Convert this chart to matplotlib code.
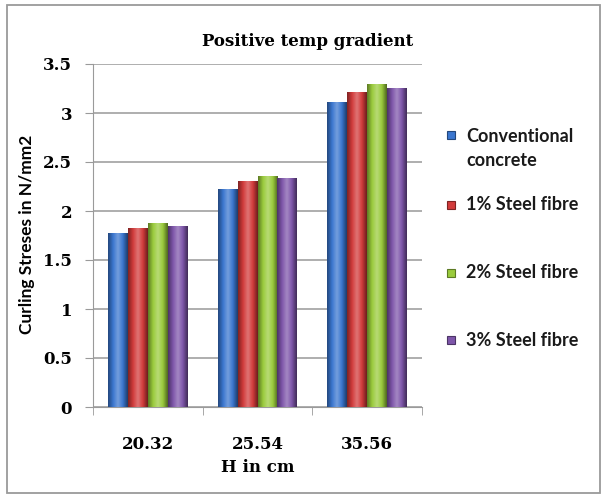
import numpy as np
import matplotlib
matplotlib.use("Agg")
import matplotlib.pyplot as plt
from matplotlib.patches import Rectangle
from matplotlib.colors import LinearSegmentedColormap, to_rgb

categories = ["20.32", "25.54", "35.56"]
series_names = ["Conventional\nconcrete", "1% Steel fibre", "2% Steel fibre", "3% Steel fibre"]
conventional = [1.77, 2.22, 3.11]
steel_1 = [1.82, 2.30, 3.21]
steel_2 = [1.87, 2.35, 3.29]
steel_3 = [1.84, 2.33, 3.25]
y_ticks = [0, 0.5, 1, 1.5, 2, 2.5, 3, 3.5]
y_tick_labels = ["0", "0.5", "1", "1.5", "2", "2.5", "3", "3.5"]

series = [conventional, steel_1, steel_2, steel_3]
colors = ["#3a76cf", "#d23b3b", "#9acb3c", "#7e56aa"]

W, H = 608, 495
fig = plt.figure(figsize=(W / 100, H / 100), dpi=100)
ax = fig.add_axes([93 / W, 1 - 407 / H, (422 - 93) / W, (407 - 64) / H])

# outer chart frame
fig.patches.append(Rectangle((7 / W, 1 - 493 / H), 593 / W, 488 / H,
                             transform=fig.transFigure, fill=False,
                             edgecolor="#9a9a9a", linewidth=1.3))

serif = "DejaVu Serif"
sans = "Lato"

x = np.arange(len(categories))
bw = 0.182
offsets = (np.arange(len(series)) - 1.5) * bw


def shade(color):
    c = np.array(to_rgb(color))
    dark = c * 0.6
    light = np.clip(c + (1 - c) * 0.3, 0, 1)
    return LinearSegmentedColormap.from_list("s", [dark, c, light, c, dark * 0.85])


for vals, col, off, name in zip(series, colors, offsets, series_names):
    bars = ax.bar(x + off, vals, bw, color=col, edgecolor="none", label=name, zorder=2)
    cmap = shade(col)
    grad = np.linspace(0, 1, 64).reshape(1, -1)
    for b in bars:
        x0, w, h = b.get_x(), b.get_width(), b.get_height()
        ax.imshow(grad, cmap=cmap, aspect="auto", extent=(x0, x0 + w, 0, h),
                  zorder=3, interpolation="bicubic")

ax.set_xlim(-0.5, 2.5)
ax.set_ylim(0, 3.5)
ax.set_yticks(y_ticks)
ax.set_yticklabels(y_tick_labels, fontfamily=serif, fontweight="bold", fontsize=12)
ax.set_xticks(x)
ax.set_xticklabels(categories, fontfamily=serif, fontweight="bold", fontsize=12)
ax.tick_params(axis="x", length=0, pad=21)
ax.set_xticks([-0.5, 0.5, 1.5, 2.5], minor=True)
ax.tick_params(axis="x", which="minor", length=6, color="#9a9a9a", direction="out")
ax.tick_params(axis="y", length=6, color="#9a9a9a", pad=9)

ax.grid(axis="y", color="#a8a8a8", linewidth=1.3, zorder=0)
ax.set_axisbelow(True)
for s in ["top", "right"]:
    ax.spines[s].set_visible(False)
ax.spines["left"].set_color("#9a9a9a")
ax.spines["bottom"].set_color("#9a9a9a")

ax.set_xlabel("H in cm", fontfamily=serif, fontweight="bold", fontsize=12, labelpad=4)
fig.text(27 / W, 1 - 234 / H, "Curling Streses in N/mm2", rotation=90,
         ha="center", va="center", fontfamily=sans, fontweight="bold", fontsize=12.5)
fig.text(308 / W, 1 - 41 / H, "Positive temp gradient", ha="center", va="center",
         fontfamily=serif, fontweight="bold", fontsize=12)

# legend: colour squares with labels
square_y = [135, 205, 273, 340]
text_y = [148.5, 205, 273, 340]
for name, col, sy, ty in zip(series_names, colors, square_y, text_y):
    fig.patches.append(Rectangle((447 / W, 1 - (sy + 4) / H), 8 / W, 8 / H,
                                 transform=fig.transFigure, facecolor=col,
                                 edgecolor=np.array(to_rgb(col)) * 0.6, linewidth=0.8))
    fig.text(466 / W, 1 - ty / H, name, ha="left", va="center", fontfamily=sans,
             fontweight="bold", fontsize=13, linespacing=1.5, color="#1a1a1a")

fig.savefig("out.png", dpi=100)
